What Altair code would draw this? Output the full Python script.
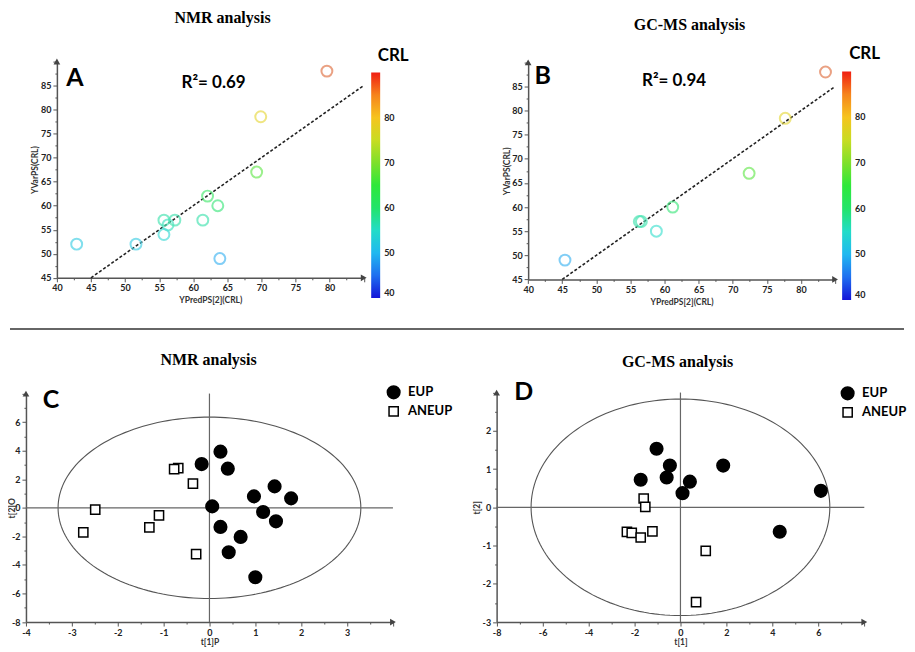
import altair as alt
import numpy as np
import pandas as pd

SANS = "Lato"
SERIF = "Liberation Serif"

# ---------------- data ----------------
# Panel A (NMR): predicted vs observed CRL
A_PRED = [42.9, 51.6, 55.7, 56.3, 55.7, 57.3, 61.4, 62.1, 63.6, 63.9, 69.3, 69.9, 79.6]
A_VAR = [52, 52, 57, 56, 54, 57, 57, 62, 60, 49, 67, 78.5, 88]
# Panel B (GC-MS)
B_PRED = [45.4, 56.3, 56.6, 58.8, 61.2, 72.4, 77.7, 83.6]
B_VAR = [49, 57, 57, 55, 60, 67, 78.4, 88]
# dashed fit lines
A_FIT_X = [45, 85]
A_FIT_Y = [45, 85]
B_FIT_X = [45, 85]
B_FIT_Y = [45, 85]
R2_A = "R\u00b2= 0.69"
R2_B = "R\u00b2= 0.94"

# Panel C (NMR scores)
C_EUP_X = [0.24, -0.17, 0.40, 1.42, 0.97, 1.78, 0.06, 1.17, 1.45, 0.24, 0.68, 0.42, 1.00]
C_EUP_Y = [3.93, 3.06, 2.74, 1.50, 0.80, 0.66, 0.10, -0.29, -0.95, -1.34, -2.04, -3.11, -4.86]
C_ANEUP_X = [-0.68, -0.77, -0.36, -2.49, -1.10, -2.75, -1.31, -0.29]
C_ANEUP_Y = [2.78, 2.71, 1.69, -0.13, -0.53, -1.72, -1.37, -3.25]
C_ELLIPSE = [3.3, 6.35]   # semi-axes (t[1], t[2])
# Panel D (GC-MS scores)
D_EUP_X = [-1.04, -0.46, -1.73, -0.60, 0.41, 0.09, 1.86, 6.11, 4.32]
D_EUP_Y = [1.53, 1.09, 0.72, 0.78, 0.67, 0.37, 1.09, 0.43, -0.64]
D_ANEUP_X = [-1.60, -1.53, -2.33, -2.12, -1.73, -1.22, 1.10, 0.68]
D_ANEUP_Y = [0.23, 0.01, -0.64, -0.67, -0.79, -0.63, -1.14, -2.48]
D_ELLIPSE = [6.5, 2.83]

GROUPS = ["EUP", "ANEUP"]

# colour bar
CRL_STOPS = [40, 45, 50, 55, 60, 65, 70, 75, 80, 85, 90]
CRL_COLORS = ["#1414d8", "#1f6ff0", "#20b8f0", "#22dcc8", "#22e46a", "#2ee83a",
              "#7ee02a", "#c8dc22", "#f6c41e", "#f6841c", "#f01e12"]
# slightly washed-out versions used for the circle outlines
PT_COLORS = ["#4343e0", "#4c8cf3", "#4dc6f3", "#4ee3d3", "#4ee988", "#58ed61",
             "#98e655", "#d3e34e", "#f2d84b", "#f0a050", "#d8604f"]
CRL_LABELS = [40, 50, 60, 70, 80]

# axis domains / ticks
AB_X_DOMAIN = [40, 85]
AB_Y_DOMAIN = [45, 90]
AB_X_TICKS = list(np.arange(40, 85.1, 2.5))
AB_Y_TICKS = list(np.arange(45, 90.1, 2.5))
C_X_DOMAIN = [-4, 4]
C_Y_DOMAIN = [-8, 8]
C_X_TICKS = list(np.arange(-4, 4.01, 0.5))
C_Y_TICKS = list(np.arange(-8, 8.01, 1))
D_X_DOMAIN = [-8, 8]
D_Y_DOMAIN = [-3, 3]
D_X_TICKS = list(np.arange(-8, 8.01, 1))
D_Y_TICKS = list(np.arange(-3, 3.01, 0.5))

W1, W2 = 447, 452
H1, H2 = 320, 316


def make_axis(values, major, label_ok, offset, title, tx=None, ty=None):
    kw = dict(
        values=[float(v) for v in values],
        labelExpr=f"({label_ok}) ? ('' + datum.value) : ''",
        tickSize={"condition": {"test": major, "value": 4}, "value": 2},
        offset=offset, title=title, grid=False,
        labelFont=SANS, labelFontWeight="bold", labelFontSize=9, labelColor="#222",
        titleFont=SANS, titleFontWeight="bold", titleFontSize=8.5, titleColor="#333",
        titleBaseline="middle",
        domainColor="#555", domainWidth=1.5, tickColor="#555", tickWidth=1,
        labelOverlap=False, labelFlush=False, labelPadding=2,
    )
    if tx is not None:
        kw["titleX"] = tx
    if ty is not None:
        kw["titleY"] = ty
    return alt.Axis(**kw)


def text_layer(txt, x, y, size, font=SANS, weight="bold", color="black", align="center"):
    return alt.Chart(pd.DataFrame({"t": [0]})).mark_text(
        font=font, fontWeight=weight, fontSize=size, color=color,
        align=align, baseline="middle"
    ).encode(x=alt.value(x), y=alt.value(y), text=alt.value(txt))


def arrows(X, Y, xdom, ydom):
    ax = alt.Chart(pd.DataFrame({"x": [xdom[1]], "y": [ydom[0]]})).mark_point(
        shape="triangle-right", filled=True, color="#444", size=45, opacity=1
    ).encode(x=X, y=Y)
    ay = alt.Chart(pd.DataFrame({"x": [xdom[0]], "y": [ydom[1]]})).mark_point(
        shape="triangle-up", filled=True, color="#444", size=45, opacity=1
    ).encode(x=X, y=Y)
    return [ax, ay]


def reg_panel(pred, var, fx, fy, W, H, xr, yr, title, tpos, letter, lpos, r2, rpos, cpos, lgx, lgy, glen):
    xaxis = make_axis(AB_X_TICKS, "datum.value % 5 === 0", "datum.value % 5 === 0 && datum.value <= 80",
                      -(H - yr[0]), "YPredPS[2](CRL)", ty=22)
    yaxis = make_axis(AB_Y_TICKS, "datum.value % 5 === 0", "datum.value % 5 === 0 && datum.value <= 85",
                      -xr[0], "YVarPS(CRL)", tx=-22)
    X = alt.X("x:Q", scale=alt.Scale(domain=AB_X_DOMAIN, range=xr, nice=False, zero=False), axis=xaxis)
    Y = alt.Y("y:Q", scale=alt.Scale(domain=AB_Y_DOMAIN, range=yr, nice=False, zero=False), axis=yaxis)
    df = pd.DataFrame({"x": pred, "y": var, "crl": var})
    fit = alt.Chart(pd.DataFrame({"x": fx, "y": fy})).mark_line(
        color="#222", strokeWidth=1.6, strokeDash=[3, 2]).encode(x=X, y=Y)
    # invisible layer carrying the colour bar legend
    bar = alt.Chart(df).mark_point(size=0, opacity=1).encode(
        x=X, y=Y,
        color=alt.Color("crl:Q",
                        scale=alt.Scale(domain=CRL_STOPS, range=CRL_COLORS, interpolate="rgb"),
                        legend=alt.Legend(orient="none", legendX=lgx, legendY=lgy, title=None,
                                          direction="vertical", gradientLength=glen,
                                          gradientThickness=9, gradientStrokeWidth=0,
                                          values=CRL_LABELS, labelFont=SANS, labelFontSize=9,
                                          labelFontWeight="bold", labelColor="#222",
                                          labelOffset=4))
    )
    pts = alt.Chart(df).mark_point(size=120, strokeWidth=2, filled=False).encode(
        x=X, y=Y,
        stroke=alt.Stroke("crl:Q",
                          scale=alt.Scale(domain=CRL_STOPS, range=PT_COLORS, interpolate="rgb"),
                          legend=None)
    )
    layers = [fit, bar, pts] + arrows(X, Y, AB_X_DOMAIN, AB_Y_DOMAIN) + [
        text_layer(title, tpos[0], tpos[1], 16, font=SERIF),
        text_layer(letter, lpos[0], lpos[1], 25),
        text_layer(r2, rpos[0], rpos[1], 17),
        text_layer("CRL", cpos[0], cpos[1], 17),
    ]
    return alt.layer(*layers).properties(width=W, height=H)


def score_panel(ex, ey, ax_, ay_, ell, xdom, ydom, xt, yt, xmaj, xlab, ymaj, ylab,
                xtitle, ytitle, W, H, xr, yr, ytx, title, tpos, letter, lpos, lgx, lgy, extra=None):
    xaxis = make_axis(xt, xmaj, xlab, -(H - yr[0]), xtitle, ty=20)
    yaxis = make_axis(yt, ymaj, ylab, -xr[0], ytitle, tx=ytx)
    X = alt.X("x:Q", scale=alt.Scale(domain=xdom, range=xr, nice=False, zero=False), axis=xaxis)
    Y = alt.Y("y:Q", scale=alt.Scale(domain=ydom, range=yr, nice=False, zero=False), axis=yaxis)
    ellipse = alt.Chart(alt.sequence(0, 362, 2, as_="deg")).transform_calculate(
        x=f"{ell[0]} * cos(datum.deg * PI / 180)",
        y=f"{ell[1]} * sin(datum.deg * PI / 180)",
    ).mark_line(color="#555", strokeWidth=1.1).encode(x=X, y=Y, order="deg:Q")
    vrule = alt.Chart(pd.DataFrame({"x": [0], "y": [ydom[0]], "y2": [ydom[1]]})).mark_rule(
        color="#666", strokeWidth=1.2).encode(x=X, y=Y, y2="y2:Q")
    hrule = alt.Chart(pd.DataFrame({"x": [xdom[0]], "x2": [xdom[1]], "y": [0]})).mark_rule(
        color="#666", strokeWidth=1.2).encode(x=X, x2="x2:Q", y=Y)
    df = pd.DataFrame({
        "x": list(ex) + list(ax_),
        "y": list(ey) + list(ay_),
        "group": ["EUP"] * len(ex) + ["ANEUP"] * len(ax_),
    })
    leg = alt.Legend(orient="none", legendX=lgx, legendY=lgy, title=None,
                     labelFont=SANS, labelFontSize=13, labelFontWeight="bold", labelColor="black",
                     symbolStrokeColor="black", symbolStrokeWidth=1.5, rowPadding=1, labelOffset=7)
    pts = alt.Chart(df).mark_point(filled=True, strokeWidth=1.5, opacity=1).encode(
        x=X, y=Y,
        shape=alt.Shape("group:N", scale=alt.Scale(domain=GROUPS, range=["circle", "square"]), legend=leg),
        fill=alt.Fill("group:N", scale=alt.Scale(domain=GROUPS, range=["black", "white"]), legend=leg),
        stroke=alt.Stroke("group:N", scale=alt.Scale(domain=GROUPS, range=["black", "black"]), legend=leg),
        size=alt.Size("group:N", scale=alt.Scale(domain=GROUPS, range=[160, 85]), legend=leg),
    )
    layers = [ellipse, vrule, hrule, pts] + arrows(X, Y, xdom, ydom) + [
        text_layer(title, tpos[0], tpos[1], 16, font=SERIF),
        text_layer(letter, lpos[0], lpos[1], 25),
    ]
    if extra is not None:
        layers.append(extra)
    return alt.layer(*layers).properties(width=W, height=H)


panel_a = reg_panel(A_PRED, A_VAR, A_FIT_X, A_FIT_Y, W1, H1, [48, 355.5], [269.7, 52.9],
                    "NMR analysis", (214, 9), "A", (66, 69), R2_A, (205, 74), (385, 47), 363, 64, 226)
panel_b = reg_panel(B_PRED, B_VAR, B_FIT_X, B_FIT_Y, W2, H1, [73.3, 380.9], [271.3, 53.8],
                    "GC-MS analysis", (235, 16), "B", (88, 67), R2_B, (219.5, 72), (410.5, 45), 388, 63, 229)

divider = alt.Chart(pd.DataFrame({"t": [0]})).mark_rule(color="#666", strokeWidth=2).encode(
    x=alt.value(1), x2=alt.value(897), y=alt.value(1))

panel_c = score_panel(C_EUP_X, C_EUP_Y, C_ANEUP_X, C_ANEUP_Y, C_ELLIPSE, C_X_DOMAIN, C_Y_DOMAIN,
                      C_X_TICKS, C_Y_TICKS,
                      "datum.value % 1 === 0", "datum.value % 1 === 0 && datum.value <= 3",
                      "datum.value % 2 === 0", "datum.value % 2 === 0 && datum.value <= 6",
                      "t[1]P", "t[2]O", W1, H2, [17, 384.8], [294.7, 65.7], -14,
                      "NMR analysis", (200, 32), "C", (42, 72), 378, 57, extra=divider)
panel_d = score_panel(D_EUP_X, D_EUP_Y, D_ANEUP_X, D_ANEUP_Y, D_ELLIPSE, D_X_DOMAIN, D_Y_DOMAIN,
                      D_X_TICKS, D_Y_TICKS,
                      "datum.value % 2 === 0", "datum.value % 2 === 0 && datum.value <= 6",
                      "datum.value % 1 === 0", "datum.value % 1 === 0 && datum.value <= 2",
                      "t[1]", "t[2]", W2, H2, [41.7, 410.2], [294.7, 64.7], -20,
                      "GC-MS analysis", (223, 34), "D", (69, 64), 386, 58)

indep = dict(x="independent", y="independent", color="independent", stroke="independent",
             shape="independent", fill="independent", size="independent")
leg_indep = dict(color="independent", stroke="independent", shape="independent",
                 fill="independent", size="independent")

chart = alt.concat(panel_a, panel_b, panel_c, panel_d, columns=2, spacing=0, bounds="flush").resolve_scale(
    **indep).resolve_legend(**leg_indep).properties(padding=0, background="white").configure_view(stroke=None)

chart.save("out.html", embed_options={"renderer": "svg", "actions": False})
